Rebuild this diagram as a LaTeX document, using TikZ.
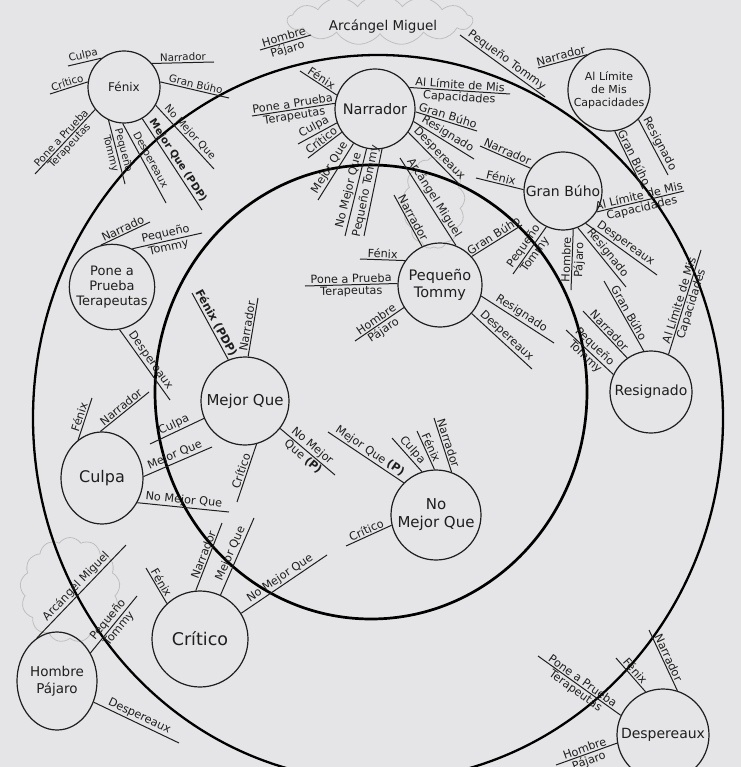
\documentclass[tikz,border=0pt]{standalone}
\usepackage{fontspec}
\setmainfont{DejaVu Sans}
\usetikzlibrary{shapes.symbols,shapes.geometric}
\definecolor{paper}{RGB}{229,229,231}
\definecolor{ink}{RGB}{30,30,30}
\newcounter{spkn}
\tikzset{
  bub/.style={circle, draw=ink, line width=1.2pt, inner sep=1pt, align=center, text=ink},
  spoke/.style={draw=ink, line width=1pt},
  lbl/.style={text=ink, inner sep=1.2pt, font=\fontsize{11.3}{12.5}\selectfont},
  fs/.style={font=\fontsize{10.3}{11.5}\selectfont},
  ring/.style={draw=black, line width=2.3pt},
  cloudy/.style={cloud, cloud puffs=13, cloud puff arc=110, cloud ignores aspect, draw=gray!50, line width=0.8pt},
  hd/.style={text=ink, font=\fontsize{13.5}{15}\selectfont}
}
\newcommand\spk[4][]{%
  \stepcounter{spkn}\edef\sn{\arabic{spkn}}%
  \coordinate (e\sn) at (#3);
  \draw[spoke] (#2) -- (e\sn) node[midway, sloped, above, lbl, #1] (la\sn) {#4};
}
\newcommand\spkk[5][]{%
  \stepcounter{spkn}\edef\sn{\arabic{spkn}}%
  \coordinate (e\sn) at (#3);
  \draw[spoke] (#2) -- (e\sn) node[midway, sloped, above, lbl, #1] (la\sn) {#4}
     node[midway, sloped, below, lbl, #1] (lb\sn) {#5};
}
\begin{document}
\begin{tikzpicture}[x=1pt, y=-1pt]
\useasboundingbox (0,0) rectangle (741,767);
\clip (0,0) rectangle (741,767);
\fill[paper] (0,0) rectangle (741,767);

% clouds
\node[cloudy, minimum width=185, minimum height=50] (cloud1) at (380,20) {};
\node[cloudy, minimum width=62, minimum height=92] (cloud2) at (434,203) {};
\node[cloudy, minimum width=100, minimum height=105] (cloud3) at (70,590) {};

% rings
\draw[ring] (378,418) ellipse [x radius=345, y radius=363];
\draw[ring, line width=2.7pt] (371,392) ellipse [x radius=216, y radius=227];

% nodes
\node[hd] (arcangel) at (383,27) {Arcángel Miguel};
\coordinate (am1) at (311,35);
\coordinate (am2) at (460,35);
\node[bub, minimum size=72, font=\fontsize{12}{14}\selectfont] (fenix) at (124,87) {Fénix};
\node[bub, minimum size=80, font=\fontsize{14.5}{16}\selectfont] (narrador) at (375,109) {Narrador};
\node[bub, minimum size=74, font=\fontsize{11}{13}\selectfont] (allimite) at (609,90) {Al Límite\\de Mis\\Capacidades};
\node[bub, minimum size=78, font=\fontsize{14}{16}\selectfont] (granbuho) at (563,191) {Gran Búho};
\node[bub, minimum size=82, font=\fontsize{13}{15}\selectfont] (ponea) at (112,287) {Pone a\\Prueba\\Terapeutas};
\node[bub, minimum size=84, font=\fontsize{14.5}{17}\selectfont] (pequeno) at (440,285) {Pequeño\\Tommy};
\node[bub, minimum size=82, font=\fontsize{14}{16}\selectfont] (resignado) at (651,392) {Resignado};
\node[bub, minimum size=88, font=\fontsize{15}{17}\selectfont] (mejor) at (245,401) {Mejor Que};
\node[bub, minimum size=90, font=\fontsize{15}{18}\selectfont] (nomejor) at (436,515) {No\\Mejor Que};
\node[bub, ellipse, minimum width=82, minimum height=92, font=\fontsize{16}{18}\selectfont] (culpa) at (102,478) {Culpa};
\node[bub, ellipse, minimum width=80, minimum height=98, font=\fontsize{13.5}{17}\selectfont] (hombre) at (57,681) {Hombre\\Pájaro};
\node[bub, minimum size=96, font=\fontsize{17.5}{20}\selectfont] (critico) at (200,639) {Crítico};
\node[bub, minimum size=92, font=\fontsize{14}{16}\selectfont] (desp) at (663,735) {Despereaux};

% Arcangel spokes
\spkk{am1}{260,50}{Hombre}{Pájaro}
\spk{am2}{545,97}{Pequeño Tommy}

% Fenix
\spk[fs]{fenix.128}{68,66}{Culpa}
\spk[fs]{fenix.40}{214,62}{Narrador}
\spk[fs]{fenix.8}{229,98}{Gran Búho}
\spk[fs]{fenix.172}{50,94}{Crítico}
\spkk[fs]{fenix.218}{35,174}{Pone a Prueba}{Terapeutas}
\spkk[fs]{fenix.245}{125,184}{Pequeño}{Tommy}
\spk[fs]{fenix.268}{166,203}{Despereaux}
\spk[fs]{fenix.300}{202,210}{\textbf{Mejor Que (PDP)}}
\spk[fs]{fenix.330}{214,169}{No Mejor Que}

% Narrador
\spk{narrador.160}{300,71}{Fénix}
\spkk{narrador.172}{252,116}{Pone a Prueba}{Terapeutas}
\spk{narrador.200}{298,144}{Culpa}
\spk{narrador.215}{308,158}{Crítico}
\spk{narrador.238}{318,200}{Mejor Que}
\spk{narrador.258}{345,236}{No Mejor Que}
\spk{narrador.280}{364,236}{Pequeño Tommy}
\spkk{narrador.32}{510,94}{Al Límite de Mis}{Capacidades}
\spk{narrador.356}{477,131}{Gran Búho}
\spk{narrador.342}{474,159}{Resignado}
\spk{narrador.325}{460,185}{Despereaux}

% Al Limite
\spk{allimite.122}{538,68}{Narrador}
\spk{allimite.278}{643,189}{Gran Búho}
\spk{allimite.315}{668,175}{Resignado}

% Gran Buho
\spk{granbuho.145}{480,146}{Narrador}
\spk{granbuho.178}{476,178}{Fénix}
\spkk{granbuho.328}{684,191}{Al Límite de Mis}{Capacidades}
\spk{granbuho.305}{657,275}{Despereaux}
\spk{granbuho.292}{626,287}{Resignado}
\spkk{granbuho.285}{571,290}{Hombre}{Pájaro}
\spkk{granbuho.245}{513,274}{Pequeño}{Tommy}

% Pequeno Tommy
\spk{pequeno.115}{394,195}{Narrador}
\spk{pequeno.68}{400,158}{Arcángel Miguel}
\spk{pequeno.145}{360,259}{Fénix}
\spkk{pequeno.178}{305,286}{Pone a Prueba}{Terapeutas}
\spkk{pequeno.212}{355,341}{Hombre}{Pájaro}
\spk{pequeno.42}{522,225}{Gran Búho}
\spk{pequeno.345}{554,343}{Resignado}
\spk{pequeno.318}{532,369}{Despereaux}

% Resignado
\spkk{resignado.155}{566,330}{Pequeño}{Tommy}
\spk{resignado.125}{583,311}{Narrador}
\spk{resignado.100}{604,281}{Gran Búho}
\spkk{resignado.65}{701,250}{Al Límite de Mis}{Capacidades}

% Pone a Prueba
\spk{ponea.105}{150,222}{Narrado}
\spkk{ponea.62}{202,233}{Pequeño}{Tommy}
\spk{ponea.280}{170,400}{Despereaux}

% Mejor Que
\spk{mejor.112}{192,293}{\textbf{Fénix (PDP)}}
\spk{mejor.86}{258,298}{Narrador}
\spk{mejor.203}{150,444}{Culpa}
\spkk{mejor.322}{335,475}{No Mejor}{Que \textbf{(P)}}
\spk{mejor.285}{237,502}{Crítico}

% Culpa
\spk{culpa.122}{92,398}{Fénix}
\spk{culpa.92}{149,392}{Narrador}
\spk{culpa.2}{212,447}{Mejor Que}
\spk{culpa.325}{229,512}{No Mejor Que}

% No Mejor Que
\spk{nomejor.135}{328,432}{Mejor Que \textbf{(P)}}
\spk{nomejor.108}{392,438}{Culpa}
\spk{nomejor.92}{417,431}{Fénix}
\spk{nomejor.70}{434,418}{Narrador}
\spk{nomejor.193}{346,546}{Crítico}

% Critico
\spk{critico.133}{146,568}{Fénix}
\spk{critico.95}{222,523}{Narrador}
\spk{critico.65}{254,518}{Mejor Que}
\spk{critico.32}{327,555}{No Mejor Que}

% Hombre Pajaro
\spk{hombre.115}{126,545}{Arcángel Miguel}
\spkk{hombre.40}{137,596}{Pequeño}{Tommy}
\spk{hombre.330}{179,743}{Despereaux}

% Despereaux
\spkk{desp.155}{538,656}{Pone a Prueba}{Terapeutas}
\spk{desp.112}{616,658}{Fénix}
\spk{desp.72}{649,630}{Narrador}
\spkk{desp.190}{556,765}{Hombre}{Pájaro}
\end{tikzpicture}
\end{document}
